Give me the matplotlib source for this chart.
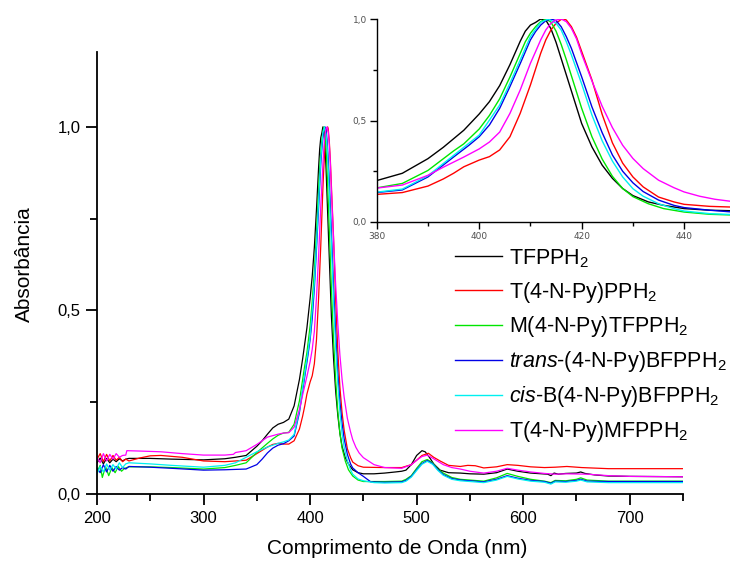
import matplotlib
matplotlib.use("Agg")
import matplotlib.pyplot as plt
from matplotlib.ticker import FixedLocator, FixedFormatter, MultipleLocator

plt.rcParams['font.family'] = ['Liberation Sans', 'DejaVu Sans']
plt.rcParams['mathtext.fontset'] = 'custom'
plt.rcParams['mathtext.rm'] = 'Liberation Sans'
plt.rcParams['mathtext.it'] = 'Liberation Sans:italic'

# ---------------- data ----------------
names = ["TFPPH$_2$", "T(4-N-Py)PPH$_2$", "M(4-N-Py)TFPPH$_2$",
         "$\\mathit{trans}$-(4-N-Py)BFPPH$_2$", "$\\mathit{cis}$-B(4-N-Py)BFPPH$_2$",
         "T(4-N-Py)MFPPH$_2$"]
colors = ["#000000", "#ff0000", "#00e600", "#0000e6", "#00f0f0", "#ff00ff"]

wl_tfpph2 = [200, 203, 206, 209, 212, 215, 218, 221, 224, 227, 230, 250, 270, 300, 320, 330, 340, 350, 355,
             360, 365, 370, 375, 380, 385, 390, 393, 395, 397, 400, 402, 404, 406, 408, 409, 410, 411, 412,
             413, 414, 415, 416, 417, 418, 419, 420, 422, 424, 426, 428, 430, 433, 436, 440, 445, 450, 460,
             470, 480, 486, 490, 495, 500, 505, 508, 512, 516, 522, 530, 541, 550, 563, 575, 585, 595, 607,
             623, 626, 629, 633, 640, 650, 654, 658, 667, 680, 700, 750]
ab_tfpph2 = [0.085, 0.098, 0.082, 0.097, 0.085, 0.095, 0.088, 0.096, 0.090, 0.095, 0.097, 0.097, 0.095,
             0.093, 0.096, 0.100, 0.105, 0.130, 0.145, 0.163, 0.180, 0.190, 0.195, 0.204, 0.240, 0.312,
             0.368, 0.410, 0.452, 0.532, 0.593, 0.672, 0.775, 0.890, 0.940, 0.970, 0.983, 1.000, 0.995,
             0.952, 0.885, 0.805, 0.725, 0.645, 0.565, 0.485, 0.370, 0.280, 0.215, 0.165, 0.130, 0.099,
             0.082, 0.066, 0.058, 0.055, 0.055, 0.057, 0.060, 0.062, 0.065, 0.080, 0.105, 0.118, 0.115,
             0.100, 0.082, 0.065, 0.058, 0.057, 0.055, 0.054, 0.058, 0.068, 0.062, 0.057, 0.054, 0.050,
             0.057, 0.054, 0.056, 0.057, 0.060, 0.056, 0.052, 0.049, 0.048, 0.047]

wl_t4npypph2 = [200, 203, 206, 209, 212, 215, 218, 221, 224, 227, 230, 240, 250, 260, 280, 300, 320, 340,
                350, 360, 365, 370, 375, 380, 385, 390, 393, 395, 397, 400, 402, 404, 406, 408, 410, 412,
                413, 414, 415, 416, 416.5, 417, 418, 419, 420, 422, 424, 426, 428, 430, 432, 435, 438, 440,
                445, 450, 470, 486, 495, 500, 505, 511, 516, 522, 530, 541, 548, 555, 563, 575, 585, 595,
                607, 620, 630, 641, 655, 680, 750]
ab_t4npypph2 = [0.095, 0.110, 0.088, 0.108, 0.090, 0.105, 0.092, 0.100, 0.088, 0.095, 0.090, 0.098, 0.104,
                0.105, 0.100, 0.090, 0.088, 0.092, 0.110, 0.128, 0.135, 0.138, 0.136, 0.136, 0.145, 0.177,
                0.212, 0.240, 0.272, 0.305, 0.322, 0.355, 0.420, 0.535, 0.675, 0.831, 0.897, 0.946, 0.979,
                0.998, 1.000, 0.995, 0.962, 0.910, 0.840, 0.700, 0.530, 0.390, 0.290, 0.222, 0.173, 0.123,
                0.099, 0.087, 0.077, 0.073, 0.072, 0.072, 0.080, 0.092, 0.105, 0.111, 0.100, 0.090, 0.078,
                0.075, 0.078, 0.077, 0.071, 0.074, 0.080, 0.078, 0.074, 0.072, 0.073, 0.075, 0.072, 0.069,
                0.069]

wl_m4npytfpph2 = [200, 203, 205, 208, 211, 214, 217, 220, 223, 226, 230, 250, 270, 300, 320, 330, 340, 350,
                  360, 365, 370, 375, 380, 385, 390, 395, 397, 400, 402, 404, 406, 408, 409, 410, 411, 412,
                  413, 414, 415, 416, 417, 418, 420, 422, 424, 426, 428, 430, 433, 436, 440, 445, 450, 460,
                  470, 486, 490, 495, 500, 505, 510, 515, 520, 525, 533, 541, 550, 563, 575, 585, 595, 607,
                  620, 626, 630, 640, 650, 654, 660, 680, 750]
ab_m4npytfpph2 = [0.060, 0.078, 0.045, 0.075, 0.050, 0.072, 0.058, 0.075, 0.062, 0.070, 0.074, 0.074,
                  0.072, 0.068, 0.072, 0.078, 0.085, 0.113, 0.138, 0.150, 0.160, 0.166, 0.168, 0.190, 0.254,
                  0.350, 0.385, 0.458, 0.525, 0.607, 0.714, 0.830, 0.888, 0.930, 0.962, 0.987, 1.000, 0.985,
                  0.940, 0.875, 0.800, 0.720, 0.560, 0.420, 0.310, 0.225, 0.165, 0.125, 0.090, 0.066, 0.049,
                  0.038, 0.034, 0.034, 0.034, 0.035, 0.040, 0.050, 0.070, 0.088, 0.094, 0.085, 0.068, 0.057,
                  0.045, 0.040, 0.038, 0.035, 0.044, 0.056, 0.048, 0.040, 0.035, 0.031, 0.037, 0.036, 0.040,
                  0.044, 0.038, 0.035, 0.035]

wl_trans = [200, 203, 206, 209, 212, 215, 218, 221, 224, 227, 230, 250, 270, 300, 320, 340, 350, 355, 360,
            365, 370, 375, 380, 385, 390, 395, 398, 400, 402, 404, 406, 408, 410, 411, 412, 413, 414, 415,
            416, 417, 418, 420, 422, 424, 426, 428, 430, 432, 435, 438, 440, 445, 450, 457, 470, 486, 490,
            495, 500, 505, 510, 515, 520, 525, 533, 541, 550, 563, 575, 585, 595, 607, 620, 626, 630, 640,
            650, 654, 660, 680, 750]
ab_trans = [0.070, 0.058, 0.080, 0.060, 0.078, 0.062, 0.075, 0.065, 0.072, 0.068, 0.075, 0.073, 0.070,
            0.065, 0.066, 0.068, 0.080, 0.095, 0.112, 0.125, 0.133, 0.137, 0.145, 0.158, 0.222, 0.320,
            0.378, 0.420, 0.478, 0.560, 0.667, 0.780, 0.897, 0.938, 0.970, 0.992, 1.000, 0.992, 0.962,
            0.913, 0.855, 0.715, 0.567, 0.440, 0.330, 0.250, 0.193, 0.150, 0.108, 0.082, 0.071, 0.058,
            0.048, 0.033, 0.032, 0.033, 0.037, 0.048, 0.066, 0.083, 0.091, 0.083, 0.066, 0.053, 0.042,
            0.038, 0.036, 0.033, 0.040, 0.050, 0.043, 0.037, 0.034, 0.029, 0.035, 0.034, 0.037, 0.040,
            0.035, 0.034, 0.034]

wl_cis = [200, 203, 206, 209, 212, 215, 218, 221, 224, 227, 230, 250, 270, 300, 320, 330, 340, 350, 360,
          365, 370, 375, 380, 385, 390, 395, 400, 404, 406, 408, 410, 412, 413.5, 415, 416, 417, 418, 420,
          422, 424, 426, 428, 430, 432, 435, 438, 440, 445, 450, 460, 470, 486, 490, 495, 500, 505, 510,
          515, 520, 525, 533, 541, 550, 563, 575, 585, 595, 607, 620, 626, 630, 640, 650, 654, 660, 680,
          750]
ab_cis = [0.055, 0.075, 0.060, 0.082, 0.065, 0.080, 0.068, 0.085, 0.072, 0.082, 0.085, 0.082, 0.078,
          0.073, 0.078, 0.085, 0.100, 0.115, 0.128, 0.133, 0.138, 0.142, 0.147, 0.162, 0.228, 0.328,
          0.428, 0.576, 0.683, 0.798, 0.913, 0.984, 1.000, 0.979, 0.946, 0.888, 0.823, 0.680, 0.527,
          0.400, 0.300, 0.222, 0.164, 0.127, 0.090, 0.066, 0.054, 0.041, 0.036, 0.031, 0.030, 0.031,
          0.035, 0.046, 0.064, 0.081, 0.089, 0.081, 0.064, 0.051, 0.040, 0.036, 0.034, 0.031, 0.038,
          0.048, 0.041, 0.035, 0.032, 0.027, 0.033, 0.032, 0.035, 0.038, 0.033, 0.031, 0.031]

wl_t4npymfpph2 = [200, 203, 206, 209, 212, 215, 218, 221, 224, 227, 228, 240, 260, 280, 300, 320, 328, 330,
                  340, 350, 360, 370, 375, 380, 385, 390, 393, 395, 397, 400, 402, 404, 406, 408, 410, 411,
                  412, 413, 414, 415, 416, 417, 418, 419, 420, 422, 424, 426, 428, 430, 432, 435, 438, 440,
                  443, 446, 450, 460, 470, 486, 495, 500, 505, 510, 516, 525, 533, 541, 550, 563, 575, 585,
                  595, 607, 620, 630, 640, 660, 680, 700, 750]
ab_t4npymfpph2 = [0.100, 0.085, 0.110, 0.090, 0.108, 0.095, 0.110, 0.100, 0.105, 0.106, 0.118, 0.117,
                  0.115, 0.110, 0.106, 0.106, 0.108, 0.113, 0.118, 0.135, 0.155, 0.163, 0.166, 0.167, 0.182,
                  0.230, 0.270, 0.295, 0.320, 0.360, 0.394, 0.443, 0.535, 0.650, 0.782, 0.839, 0.897, 0.946,
                  0.979, 0.995, 1.000, 0.987, 0.954, 0.902, 0.827, 0.695, 0.570, 0.465, 0.378, 0.313, 0.263,
                  0.206, 0.169, 0.148, 0.127, 0.112, 0.099, 0.080, 0.072, 0.070, 0.080, 0.092, 0.102, 0.106,
                  0.096, 0.080, 0.072, 0.068, 0.062, 0.057, 0.062, 0.070, 0.065, 0.060, 0.056, 0.054, 0.055,
                  0.054, 0.050, 0.048, 0.047]

series = [(wl_tfpph2, ab_tfpph2), (wl_t4npypph2, ab_t4npypph2), (wl_m4npytfpph2, ab_m4npytfpph2),
          (wl_trans, ab_trans), (wl_cis, ab_cis), (wl_t4npymfpph2, ab_t4npymfpph2)]

main_xticks = [200, 300, 400, 500, 600, 700]
main_yticks = [0.0, 0.5, 1.0]
main_ytick_labels = ["0,0", "0,5", "1,0"]
inset_xticks = [380, 400, 420, 440]
inset_yticks = [0.0, 0.5, 1.0]
inset_ytick_labels = ["0,0", "0,5", "1,0"]

# ---------------- figure ----------------
W, H = 730, 561
fig = plt.figure(figsize=(W / 100, H / 100), dpi=100)

ax = fig.add_axes([97 / W, 1 - 494 / H, (683 - 97) / W, (494 - 52) / H])
for (x, y), c, n in zip(series, colors, names):
    ax.plot(x, y, color=c, lw=0.9, label=n)
ax.set_xlim(200, 750)
ax.set_ylim(0, 1.204)
for s in ["top", "right"]:
    ax.spines[s].set_visible(False)
for s in ["left", "bottom"]:
    ax.spines[s].set_linewidth(1.3)
ax.xaxis.set_major_locator(FixedLocator(main_xticks))
ax.xaxis.set_minor_locator(MultipleLocator(50))
ax.yaxis.set_major_locator(FixedLocator(main_yticks))
ax.yaxis.set_major_formatter(FixedFormatter(main_ytick_labels))
ax.yaxis.set_minor_locator(MultipleLocator(0.25))
ax.tick_params(which="major", direction="out", length=8, width=1.3, labelsize=12, pad=4)
ax.tick_params(which="minor", direction="out", length=5, width=1.3)
ax.set_xlabel("Comprimento de Onda (nm)", fontsize=15)
ax.set_ylabel("Absorbância", fontsize=15)
ax.xaxis.set_label_coords(0.512, -0.102)
ax.yaxis.set_label_coords(-0.108, 0.52)

leg = ax.legend(loc="upper left", bbox_to_anchor=(455 / W, 1 - 247 / H), bbox_transform=fig.transFigure,
                frameon=False, fontsize=15.5, handlelength=2.2, handletextpad=0.3, labelspacing=0.46,
                borderpad=0, borderaxespad=0)
for line in leg.get_lines():
    line.set_linewidth(1.0)

# inset
iax = fig.add_axes([376.7 / W, 1 - 222 / H, (735.4 - 376.7) / W, (222 - 19) / H])
for (x, y), c in zip(series, colors):
    iax.plot(x, y, color=c, lw=1.0)
iax.set_xlim(380, 450)
iax.set_ylim(0, 1.0)
for s in ["top", "right"]:
    iax.spines[s].set_visible(False)
for s in ["left", "bottom"]:
    iax.spines[s].set_linewidth(1.0)
iax.xaxis.set_major_locator(FixedLocator(inset_xticks))
iax.xaxis.set_minor_locator(MultipleLocator(10))
iax.yaxis.set_major_locator(FixedLocator(inset_yticks))
iax.yaxis.set_major_formatter(FixedFormatter(inset_ytick_labels))
iax.yaxis.set_minor_locator(MultipleLocator(0.25))
iax.tick_params(which="major", direction="out", length=5, width=1.0, labelsize=6.5, labelcolor="#505050", pad=2)
iax.tick_params(which="minor", direction="out", length=3, width=1.0)
for lab in iax.get_xticklabels() + iax.get_yticklabels():
    lab.set_family("DejaVu Sans")

fig.savefig("out.png", dpi=100)
